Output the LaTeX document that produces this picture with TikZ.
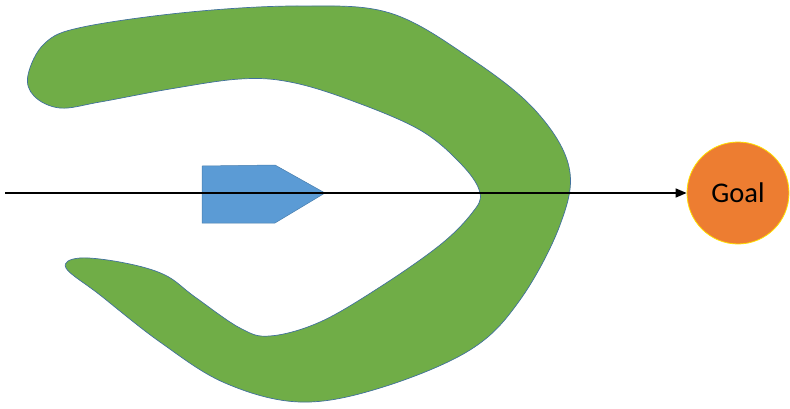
\documentclass[tikz,border=0pt]{standalone}
\usepackage{fontspec}
\setmainfont{Carlito}
\usetikzlibrary{arrows.meta}
\definecolor{blobgreen}{HTML}{70AD47}
\definecolor{edgeblue}{HTML}{41719C}
\definecolor{boatblue}{HTML}{5B9BD5}
\definecolor{goalorange}{HTML}{ED7D31}
\definecolor{goalrim}{HTML}{FFE000}
\tikzset{
  blob/.style={fill=blobgreen, draw=edgeblue, line width=0.7pt},
  boat/.style={fill=boatblue, draw=edgeblue!70!boatblue, line width=0.5pt},
  goalnode/.style={circle, fill=goalorange, draw=goalrim, line width=0.8pt, minimum size=102pt, inner sep=0pt, font=\fontsize{28.5}{32}\selectfont},
  ray/.style={line width=1.6pt, -{Triangle[length=11pt,width=9pt]}}
}
\begin{document}
\begin{tikzpicture}[x=1pt,y=-1pt]
\useasboundingbox (0,0) rectangle (790,408);
\draw[blob] plot[smooth cycle, tension=0.6] coordinates {
(28,75) (45,43) (83,27) (190,12) (300,6) (390,13) (470,58) (535,110) (569,167) (560,225) (520,300) (470,350) (380,388) (300,402) (225,383) (160,342) (100,295) (66,268) (80,258) (125,263) (165,275) (195,297) (240,328) (270,336) (320,322) (380,287) (440,245) (472,213) (480,193) (462,165) (420,130) (350,100) (290,82) (240,79) (170,89) (100,102) (60,108) (34,96)};
\draw[boat] (202,166) -- (275,165) -- (325,193) -- (275,223) -- (202,223) -- cycle;
\node[goalnode] (goal) at (738,193) {Goal};
\coordinate (start) at (5,193);
\draw[ray] (start) -- (goal.west);
\end{tikzpicture}
\end{document}
